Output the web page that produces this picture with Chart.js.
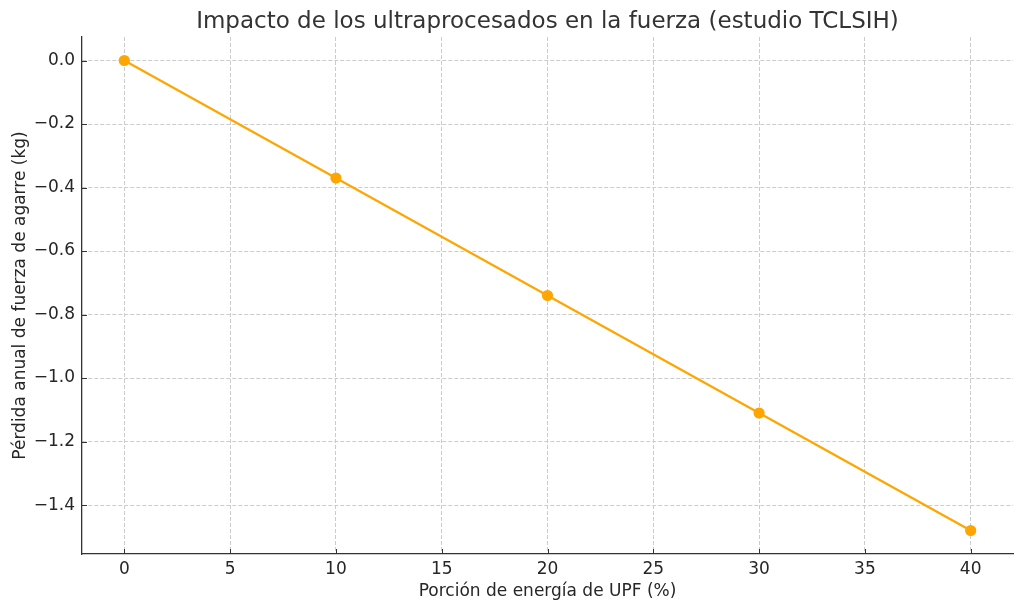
<!DOCTYPE html>
<html>
<head>
<meta charset="utf-8">
<script src="https://cdn.jsdelivr.net/npm/chart.js@4"></script>
<style>
  html, body { margin: 0; padding: 0; background: #fff; }
  #wrap { width: 1024px; height: 610px; }
</style>
</head>
<body>
<div id="wrap"><canvas id="upfChart" width="1024" height="610"></canvas></div>
<script>
// datos
const upfShare   = [0, 10, 20, 30, 40];
const gripLoss   = [0, -0.37, -0.74, -1.11, -1.48];
const xTicks     = [0, 5, 10, 15, 20, 25, 30, 35, 40];
const yTicks     = [0.0, -0.2, -0.4, -0.6, -0.8, -1.0, -1.2, -1.4];

const FONT = "'DejaVu Sans', sans-serif";
const minus = v => (v < 0 ? '\u2212' : '') + Math.abs(v).toFixed(1);

// marcas de tick hacia dentro, como en matplotlib
const innerTicks = {
    id: 'innerTicks',
    afterDatasetsDraw(chart) {
        const { ctx, chartArea, scales } = chart;
        ctx.save();
        ctx.strokeStyle = '#333';
        ctx.lineWidth = 1;
        ctx.beginPath();
        xTicks.forEach(v => {
            const px = Math.round(scales.x.getPixelForValue(v)) + 0.5;
            ctx.moveTo(px, chartArea.bottom);
            ctx.lineTo(px, chartArea.bottom - 5);
        });
        yTicks.forEach(v => {
            const py = Math.round(scales.y.getPixelForValue(v)) + 0.5;
            ctx.moveTo(chartArea.left, py);
            ctx.lineTo(chartArea.left + 5, py);
        });
        ctx.stroke();
        ctx.restore();
    }
};

new Chart(document.getElementById('upfChart'), {
    type: 'line',
    data: {
        datasets: [{
            label: 'Pérdida anual',
            data: upfShare.map((x, i) => ({ x: x, y: gripLoss[i] })),
            borderColor: '#FFA500',
            backgroundColor: '#FFA500',
            borderWidth: 2.2,
            pointRadius: 4.5,
            pointHoverRadius: 5,
            fill: false,
            tension: 0,
        }]
    },
    options: {
        responsive: false,
        animation: false,
        layout: { padding: { left: 0, right: 11, top: 0, bottom: 0 } },
        scales: {
            x: {
                type: 'linear',
                min: -2,
                max: 42,
                afterBuildTicks: s => { s.ticks = xTicks.map(v => ({ value: v })); },
                afterFit: s => { s.height = 56; },
                grid: { color: '#cccccc', drawTicks: false },
                border: { color: '#333', width: 1.3, dash: [4, 2] },
                ticks: { color: '#262626', font: { family: FONT, size: 17 }, padding: 5, maxRotation: 0 },
                title: {
                    display: true,
                    text: 'Porción de energía de UPF (%)',
                    color: '#262626',
                    font: { family: FONT, size: 17 },
                    padding: { top: 2, bottom: 8 }
                }
            },
            y: {
                type: 'linear',
                min: -1.554,
                max: 0.074,
                afterBuildTicks: s => { s.ticks = yTicks.map(v => ({ value: v })); },
                afterFit: s => { s.width = 82; },
                grid: { color: '#cccccc', drawTicks: false },
                border: { color: '#333', width: 1.3, dash: [4, 2] },
                ticks: { color: '#262626', font: { family: FONT, size: 17 }, padding: 7, callback: v => minus(v) },
                title: {
                    display: true,
                    text: 'Pérdida anual de fuerza de agarre (kg)',
                    color: '#262626',
                    font: { family: FONT, size: 17 },
                    padding: { top: 10, bottom: 4 }
                }
            }
        },
        plugins: {
            legend: { display: false },
            tooltip: { enabled: false },
            title: {
                display: true,
                fullSize: false,
                text: 'Impacto de los ultraprocesados en la fuerza (estudio TCLSIH)',
                color: '#333333',
                font: { family: FONT, size: 23, weight: 'normal' },
                padding: { top: 8, bottom: 1.4 }
            }
        }
    },
    plugins: [innerTicks]
});
</script>
</body>
</html>
